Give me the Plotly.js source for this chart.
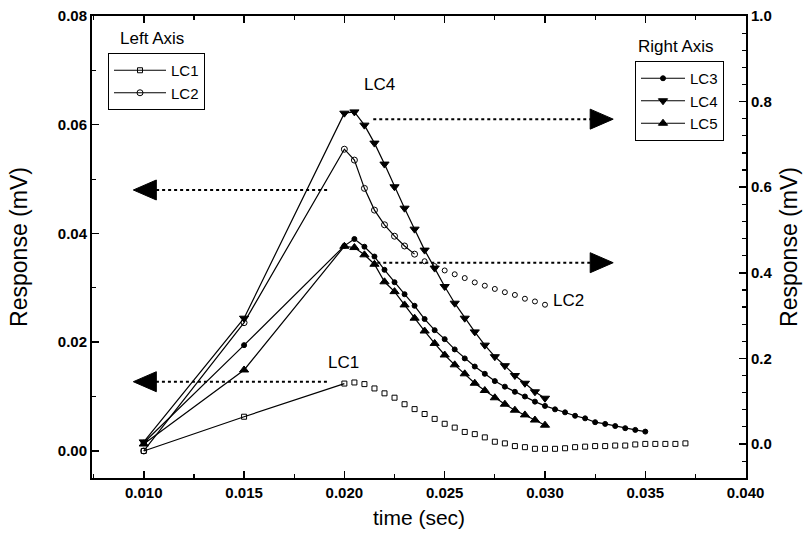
<!DOCTYPE html>
<html><head><meta charset="utf-8">
<script src="https://cdn.plot.ly/plotly-3.0.1.min.js"></script>
<style>html,body{margin:0;padding:0;background:#fff}#chart{width:811px;height:541px}</style>
</head><body><div id="chart"></div>
<script>
// ---- data (left axis series) ----
const tLC1 = [0.010,0.015,0.020,0.0205,0.021,0.0215,0.022,0.0225,0.023,0.0235,0.024,0.0245,0.025,0.0255,0.026,0.0265,0.027,0.0275,0.028,0.0285,0.029,0.0295,0.030,0.0305,0.031,0.0315,0.032,0.0325,0.033,0.0335,0.034,0.0345,0.035,0.0355,0.036,0.0365,0.037];
const vLC1 = [0.0000,0.0063,0.0124,0.0126,0.0123,0.0115,0.0106,0.0098,0.0086,0.0077,0.0068,0.0059,0.0050,0.0043,0.0035,0.0031,0.0025,0.0017,0.0014,0.0009,0.0007,0.0004,0.0004,0.0004,0.0005,0.0007,0.0008,0.0009,0.0009,0.0010,0.0010,0.0012,0.0013,0.0013,0.0013,0.0013,0.0014];
const tLC2 = [0.010,0.015,0.020,0.0205,0.021,0.0215,0.022,0.0225,0.023,0.0235,0.024,0.0245,0.025,0.0255,0.026,0.0265,0.027,0.0275,0.028,0.0285,0.029,0.0295,0.030];
const vLC2 = [0.0000,0.0236,0.0555,0.0535,0.0483,0.0443,0.0416,0.0395,0.0377,0.0362,0.0349,0.0340,0.0332,0.0325,0.0318,0.0310,0.0304,0.0298,0.0292,0.0287,0.0280,0.0275,0.0269];
// ---- data (right axis series) ----
const tLC3 = [0.010,0.015,0.020,0.0205,0.021,0.0215,0.022,0.0225,0.023,0.0235,0.024,0.0245,0.025,0.0255,0.026,0.0265,0.027,0.0275,0.028,0.0285,0.029,0.0295,0.030,0.0305,0.031,0.0315,0.032,0.0325,0.033,0.0335,0.034,0.0345,0.035];
const vLC3 = [0.003,0.231,0.463,0.479,0.461,0.438,0.407,0.378,0.350,0.323,0.292,0.266,0.245,0.221,0.200,0.181,0.164,0.147,0.134,0.122,0.111,0.099,0.089,0.081,0.074,0.066,0.060,0.051,0.047,0.042,0.037,0.033,0.029];
const tLC4 = [0.010,0.015,0.020,0.0205,0.021,0.0215,0.022,0.0225,0.023,0.0235,0.024,0.0245,0.025,0.0255,0.026,0.0265,0.027,0.0275,0.028,0.0285,0.029,0.0295,0.030];
const vLC4 = [0.005,0.294,0.773,0.776,0.745,0.703,0.654,0.601,0.551,0.502,0.453,0.411,0.368,0.329,0.294,0.262,0.231,0.204,0.183,0.160,0.142,0.122,0.107];
const tLC5 = [0.010,0.015,0.020,0.0205,0.021,0.0215,0.022,0.0225,0.023,0.0235,0.024,0.0245,0.025,0.0255,0.026,0.0265,0.027,0.0275,0.028,0.0285,0.029,0.0295,0.030];
const vLC5 = [0.000,0.173,0.462,0.459,0.442,0.420,0.379,0.356,0.325,0.294,0.264,0.235,0.208,0.185,0.164,0.142,0.125,0.108,0.093,0.079,0.068,0.056,0.044];
// ---- axis ticks ----
const xTickVals = [0.010,0.015,0.020,0.025,0.030,0.035,0.040];
const xTickText = ['0.010','0.015','0.020','0.025','0.030','0.035','0.040'];
const yLeftTickVals = [0.00,0.02,0.04,0.06,0.08];
const yLeftTickText = ['0.00','0.02','0.04','0.06','0.08'];
const yRightTickVals = [0.0,0.2,0.4,0.6,0.8,1.0];
const yRightTickText = ['0.0','0.2','0.4','0.6','0.8','1.0'];

const FONT = '"Liberation Sans", Arial, sans-serif';
const BLACK = '#000';

function lineTrace(name, x, y, axis, symbol, size, legend, show, mode) {
  return {
    type: 'scatter', mode: mode || 'lines+markers', name: name, x: x, y: y,
    yaxis: axis, legend: legend, showlegend: show,
    line: {color: BLACK, width: 1.2},
    marker: {symbol: symbol, size: size, color: BLACK, line: {color: BLACK, width: 1}}
  };
}

const traces = [
  lineTrace('LC1', tLC1.slice(0,3), vLC1.slice(0,3), 'y', 'square-open', 5, 'legend', true),
  lineTrace('LC1', tLC1.slice(3), vLC1.slice(3), 'y', 'square-open', 5, 'legend', false, 'markers'),
  lineTrace('LC2', tLC2.slice(0,10), vLC2.slice(0,10), 'y', 'circle-open', 6, 'legend', true),
  lineTrace('LC2', tLC2.slice(10), vLC2.slice(10), 'y', 'circle-open', 5, 'legend', false, 'markers'),
  lineTrace('LC3', tLC3, vLC3, 'y2', 'circle', 5, 'legend2', true),
  lineTrace('LC4', tLC4, vLC4, 'y2', 'triangle-down', 8, 'legend2', true),
  lineTrace('LC5', tLC5, vLC5, 'y2', 'triangle-up', 8, 'legend2', true)
];

function dotted(x0, x1, y, yref) {
  return {type: 'line', xref: 'x', yref: yref, x0: x0, x1: x1, y0: y, y1: y,
          line: {color: BLACK, width: 2, dash: 'dot'}};
}
function head(x, y, yref, dir) {
  const p = dir > 0 ? 'M0,0 L-23,10 L-23,-10 Z' : 'M0,0 L23,10 L23,-10 Z';
  return {type: 'path', xref: 'x', yref: yref, xsizemode: 'pixel', ysizemode: 'pixel',
          xanchor: x, yanchor: y, path: p, fillcolor: BLACK, line: {color: BLACK, width: 1}};
}

const shapes = [
  dotted(0.02144, 0.0323, 0.759, 'y2'), head(0.0334, 0.759, 'y2', 1),
  dotted(0.02164, 0.0323, 0.4236, 'y2'), head(0.0334, 0.4236, 'y2', 1),
  dotted(0.01914, 0.01058, 0.0480, 'y'), head(0.00948, 0.0480, 'y', -1),
  dotted(0.01913, 0.01058, 0.01274, 'y'), head(0.00948, 0.01274, 'y', -1)
];

function label(text, x, y, size) {
  return {text: text, xref: 'paper', yref: 'paper', x: x, y: y, showarrow: false,
          xanchor: 'center', yanchor: 'middle', font: {family: FONT, size: size, color: BLACK}};
}
// paper coords from pixel positions: plot area l=92, r=746, t=16, b=478
function px(xp) { return (xp - 92) / 654; }
function py(yp) { return (478 - yp) / 462; }

const annotations = [
  label('Left Axis', px(152), py(38), 17),
  label('Right Axis', px(676), py(46), 17),
  label('LC4', px(379), py(84), 17),
  label('LC1', px(343), py(362), 17),
  label('LC2', px(568), py(300), 17)
];

const axisCommon = {
  showline: true, linecolor: BLACK, linewidth: 2, ticks: 'inside', ticklen: 7, tickwidth: 1.5,
  tickcolor: BLACK, showgrid: false, zeroline: false,
  tickfont: {family: FONT, size: 15, color: BLACK, weight: 'bold'}
};

const layout = {
  width: 811, height: 541,
  margin: {l: 92, r: 65, t: 16, b: 63},
  paper_bgcolor: '#fff', plot_bgcolor: '#fff',
  font: {family: FONT, color: BLACK},
  xaxis: Object.assign({}, axisCommon, {
    range: [0.00742, 0.04002], tickvals: xTickVals, ticktext: xTickText, mirror: 'ticks',
    minor: {dtick: 0.0025, tick0: 0.0, ticks: 'inside', ticklen: 4, tickcolor: BLACK, tickwidth: 1.2},
    title: {text: 'time (sec)', font: {family: FONT, size: 21, color: BLACK}, standoff: 10}
  }),
  yaxis: Object.assign({}, axisCommon, {
    range: [-0.00497, 0.08], tickvals: yLeftTickVals, ticktext: yLeftTickText,
    minor: {dtick: 0.01, tick0: 0, ticks: 'inside', ticklen: 4, tickcolor: BLACK, tickwidth: 1.2},
    title: {text: 'Response (mV)', font: {family: FONT, size: 23, color: BLACK}, standoff: 24}
  }),
  yaxis2: Object.assign({}, axisCommon, {
    range: [-0.0794, 1.0], tickvals: yRightTickVals, ticktext: yRightTickText,
    overlaying: 'y', side: 'right',
    minor: {dtick: 0.04, tick0: 0, ticks: 'inside', ticklen: 4, tickcolor: BLACK, tickwidth: 1.2},
    title: {text: 'Response (mV)', font: {family: FONT, size: 23, color: BLACK}, standoff: 9}
  }),
  legend: {x: px(108), y: py(53), xanchor: 'left', yanchor: 'top', bgcolor: '#fff',
           bordercolor: BLACK, borderwidth: 1, font: {family: FONT, size: 15, color: BLACK},
           tracegroupgap: 0, itemwidth: 52},
  legend2: {x: px(635), y: py(61), xanchor: 'left', yanchor: 'top', bgcolor: '#fff',
            bordercolor: BLACK, borderwidth: 1, font: {family: FONT, size: 15, color: BLACK},
            tracegroupgap: 0, itemwidth: 44},
  shapes: shapes,
  annotations: annotations
};

Plotly.newPlot('chart', traces, layout, {displayModeBar: false, staticPlot: true});
</script>
</body></html>
